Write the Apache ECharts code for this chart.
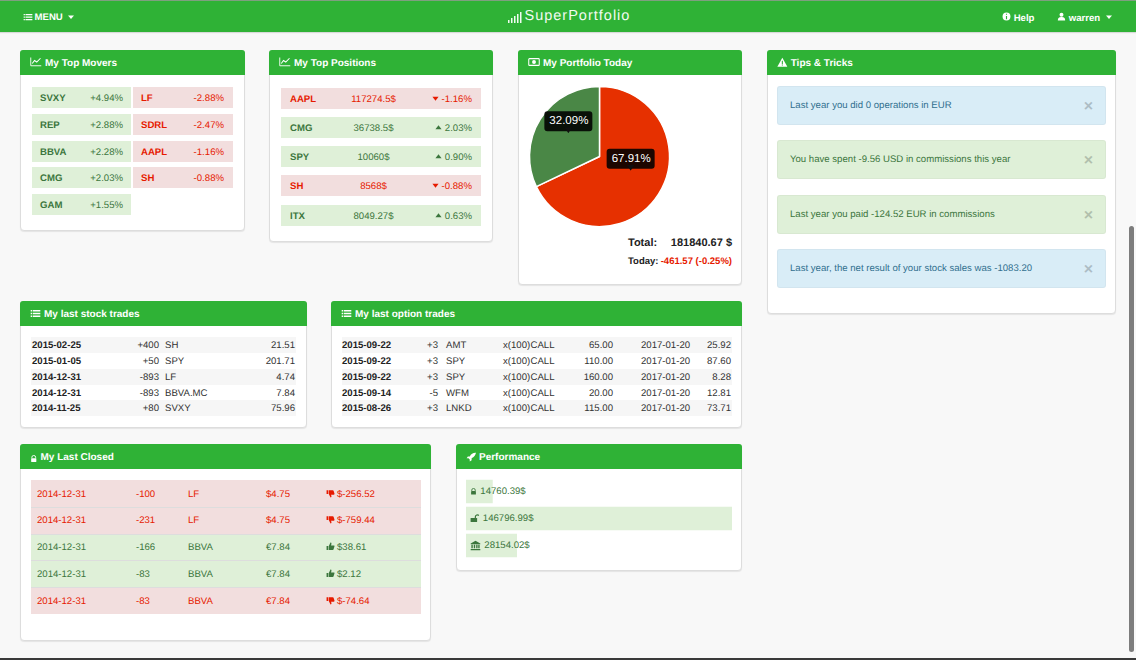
<!DOCTYPE html>
<html>
<head>
<meta charset="utf-8">
<title>SuperPortfolio</title>
<script src="https://cdn.jsdelivr.net/npm/echarts@6/dist/echarts.min.js"></script>
<style>
html,body{margin:0;padding:0;width:1136px;height:660px;overflow:hidden;background:#f8f8f8;font-family:"Liberation Sans",Arial,sans-serif;font-size:9.6px;color:#333;text-rendering:geometricPrecision}
#nav{position:absolute;left:0;top:0;width:1136px;height:32px;background:#2fb236;border-top:1px solid #7f9f80;box-sizing:border-box;box-shadow:0 1px 1px rgba(0,0,0,.12);color:#fff;font-weight:bold;font-size:9.6px}
#nav span{position:absolute;top:10.5px;white-space:nowrap}
#logo{left:524.5px;top:6.5px!important;font-weight:normal;font-size:14.5px;letter-spacing:1px;color:#f2fbf2}
.panel{position:absolute;background:#fff;border:1px solid #ddd;border-radius:4px;box-sizing:border-box;box-shadow:0 1px 1px rgba(0,0,0,.08)}
.head{position:absolute;left:-1px;right:-1px;top:-1px;height:25px;background:#2fb236;border-radius:3px 3px 0 0;color:#fff;font-weight:bold;font-size:10px;line-height:27px;white-space:nowrap}
.head svg{vertical-align:-2px;margin-right:3px}
.ok{background:#dff0d8;color:#3c763d}
.ko{background:#f2dede;color:#e61a00}
.info{background:#d9edf7;color:#31708f}
.b{font-weight:bold}
.alert{position:absolute;left:777px;width:329px;height:39px;border-radius:3px;border:1px solid rgba(0,0,0,.03);box-sizing:border-box;line-height:37px;padding-left:12px}
.alert i{position:absolute;right:12px;top:3px;font-style:normal;font-size:16px;line-height:34px;font-weight:bold;opacity:.2;color:#000}
#scroll{position:absolute;left:1129px;top:226px;width:5px;height:426px;background:#7d7d7d;border-radius:3px}
#bottom{position:absolute;left:0;top:658px;width:1136px;height:2px;background:#3a3a3a}
#pie{position:absolute;left:518px;top:75px;width:224px;height:165px}
#perf{position:absolute;left:456px;top:469px;width:286px;height:100px}
.abs{position:absolute;white-space:nowrap}
</style>
</head>
<body>
<div id="nav"></div>
<div id="app"></div>
<div id="scroll"></div>
<div id="bottom"></div>
<script>
var moverUp = [['SVXY', '+4.94%'], ['REP', '+2.88%'], ['BBVA', '+2.28%'], ['CMG', '+2.03%'], ['GAM', '+1.55%']];
var moverDown = [['LF', '-2.88%'], ['SDRL', '-2.47%'], ['AAPL', '-1.16%'], ['SH', '-0.88%']];
var topPositions = [
    ['AAPL', '117274.5$', '-1.16%', 0],
    ['CMG', '36738.5$', '2.03%', 1],
    ['SPY', '10060$', '0.90%', 1],
    ['SH', '8568$', '-0.88%', 0],
    ['ITX', '8049.27$', '0.63%', 1]
];
var pieValues = [67.91, 32.09];
var tips = [
    ['info', 'Last year you did 0 operations in EUR'],
    ['ok', 'You have spent -9.56 USD in commissions this year'],
    ['ok', 'Last year you paid -124.52 EUR in commissions'],
    ['info', 'Last year, the net result of your stock sales was -1083.20']
];
var stockTrades = [
    ['2015-02-25', '+400', 'SH', '21.51'],
    ['2015-01-05', '+50', 'SPY', '201.71'],
    ['2014-12-31', '-893', 'LF', '4.74'],
    ['2014-12-31', '-893', 'BBVA.MC', '7.84'],
    ['2014-11-25', '+80', 'SVXY', '75.96']
];
var optionTrades = [
    ['2015-09-22', '+3', 'AMT', '65.00', '25.92'],
    ['2015-09-22', '+3', 'SPY', '110.00', '87.60'],
    ['2015-09-22', '+3', 'SPY', '160.00', '8.28'],
    ['2015-09-14', '-5', 'WFM', '20.00', '12.81'],
    ['2015-08-26', '+3', 'LNKD', '115.00', '73.71']
];
var closedTrades = [
    ['2014-12-31', '-100', 'LF', '$4.75', '$-256.52', 0],
    ['2014-12-31', '-231', 'LF', '$4.75', '$-759.44', 0],
    ['2014-12-31', '-166', 'BBVA', '€7.84', '$38.61', 1],
    ['2014-12-31', '-83', 'BBVA', '€7.84', '$2.12', 1],
    ['2014-12-31', '-83', 'BBVA', '€7.84', '$-74.64', 0]
];
var perfValues = [14760.39, 146796.99, 28154.02];

function ic(name, w, c) {
    c = c || '#fff';
    var p = {
        line: '<path d="M1 2v11h14" fill="none" stroke="' + c + '" stroke-width="1.2"/><path d="M3 10l3-4 3 2 5-5" fill="none" stroke="' + c + '" stroke-width="1.4"/>',
        list: '<path d="M1 3h2v2H1zM1 7h2v2H1zM1 11h2v2H1z" fill="' + c + '"/><path d="M4 3h11v2H4zM4 7h11v2H4zM4 11h11v2H4z" fill="' + c + '"/>',
        money: '<rect x="1" y="3.5" width="14" height="9" rx="1" fill="none" stroke="' + c + '" stroke-width="1.4"/><circle cx="8" cy="8" r="2.6" fill="' + c + '"/>',
        warn: '<path d="M8 1l7.5 13.5H.5z" fill="' + c + '"/><path d="M7.2 5.5h1.6v5H7.2zM7.2 11.3h1.6v1.6H7.2z" fill="#2fb236"/>',
        lock: '<path d="M4 7V5a4 4 0 0 1 8 0v2" fill="none" stroke="' + c + '" stroke-width="2"/><rect x="2.5" y="7" width="11" height="8" rx="1" fill="' + c + '"/>',
        unlock: '<path d="M9 7V5a3.5 3.5 0 0 1 6 -2" fill="none" stroke="' + c + '" stroke-width="2"/><rect x="1" y="7" width="11" height="7" rx="1" fill="' + c + '"/>',
        bank: '<path d="M8 1l7 4v1H1V5zM2 7h2v5H2zM5.5 7h2v5h-2zM9 7h2v5H9zM12 7h2v5h-2zM1 13h14v2H1z" fill="' + c + '"/>',
        rocket: '<path d="M15 1c-4 0-7 2-9 6H3l-2 3h3l2 2v3l3-2v-3c4-2 6-5 7-9z" fill="' + c + '"/>',
        up: '<path d="M1 7h3v7H1zM5 7l3-6c1.500 0 2 1 1.600 2.500L9 6h5c1 0 1.300 1 1 2l-1.500 5c-.2.700-.700 1-1.500 1H5z" fill="' + c + '"/>',
        down: '<path d="M1 2h3v7H1zM5 9l3 6c1.500 0 2-1 1.600-2.500L9 10h5c1 0 1.300-1 1-2l-1.500-5c-.2-.700-.700-1-1.500-1H5z" fill="' + c + '"/>',
        info: '<circle cx="8" cy="8" r="7" fill="' + c + '"/><path d="M7 3h2v2H7zM7 7h2v6H7z" fill="#2fb236"/>',
        user: '<circle cx="8" cy="5" r="3.500" fill="' + c + '"/><path d="M1.500 15c0-5 3-6 6.500-6s6.500 1 6.500 6z" fill="' + c + '"/>',
        caret: '<path d="M2 5h12l-6 7z" fill="' + c + '"/>',
        tup: '<path d="M8 3l7 9H1z" fill="' + c + '"/>',
        tdown: '<path d="M1 4h14l-7 9z" fill="' + c + '"/>',
        tip: '<path d="M2 0h12l-6 16z" fill="' + c + '"/>'
    };
    return '<svg width="' + w + '" height="' + w + '" viewBox="0 0 16 16" preserveAspectRatio="none">' + p[name] + '</svg>';
}

function icUri(name, c) {
    return 'data:image/svg+xml;charset=utf-8,' + encodeURIComponent(ic(name, 32, c).replace('<svg ', '<svg xmlns="http://www.w3.org/2000/svg" '));
}

var app = document.getElementById('app');
var html = '';

function abs(x, y, txt, cls, style) {
    html += '<div class="abs ' + (cls || '') + '" style="left:' + x + 'px;top:' + y + 'px;' + (style || '') + '">' + txt + '</div>';
}
function absR(right, y, txt, cls, style) {
    html += '<div class="abs ' + (cls || '') + '" style="right:' + (1136 - right) + 'px;top:' + y + 'px;' + (style || '') + '">' + txt + '</div>';
}
function box(x, y, w, h, cls, style) {
    html += '<div class="abs ' + (cls || '') + '" style="left:' + x + 'px;top:' + y + 'px;width:' + w + 'px;height:' + h + 'px;' + (style || '') + '"></div>';
}
function panel(x, y, w, h, icon, iconW, title) {
    html += '<div class="panel" style="left:' + x + 'px;top:' + y + 'px;width:' + w + 'px;height:' + h + 'px">' +
        '<div class="head" style="padding-left:10px">' + ic(icon, iconW) + title + '</div></div>';
}

panel(20, 50, 225, 181, 'line', 12, 'My Top Movers');
panel(269, 50, 224, 192, 'line', 12, 'My Top Positions');
panel(518, 50, 224, 235, 'money', 12, 'My Portfolio Today');
panel(767, 50, 349, 264, 'warn', 10.7, 'Tips &amp; Tricks');
panel(20, 301, 287, 127, 'list', 11, 'My last stock trades');
panel(331, 301, 411, 127, 'list', 11, 'My last option trades');
panel(20, 444, 411, 197, 'lock', 7.5, 'My Last Closed');
panel(456, 444, 286, 127, 'rocket', 10, 'Performance');

// top movers
var moverY = [87, 114, 141, 167, 194];
moverUp.forEach(function (m, i) {
    box(32, moverY[i], 99, 21, 'ok');
    abs(40, moverY[i] + 6, m[0], 'b', 'color:#3c763d');
    absR(123, moverY[i] + 6, m[1], '', 'color:#3c763d');
});
moverDown.forEach(function (m, i) {
    box(133, moverY[i], 100, 21, 'ko');
    abs(141, moverY[i] + 6, m[0], 'b', 'color:#e61a00');
    absR(224, moverY[i] + 6, m[1], '', 'color:#e61a00');
});

// top positions
var posY = [88, 117, 146, 175, 205];
topPositions.forEach(function (p, i) {
    var col = p[3] ? '#3c763d' : '#e61a00';
    box(281, posY[i], 200, 21, p[3] ? 'ok' : 'ko');
    abs(290, posY[i] + 6, p[0], 'b', 'color:' + col);
    abs(323.5, posY[i] + 6, p[1], '', 'color:' + col + ';width:100px;text-align:center');
    absR(472, posY[i] + 6, ic(p[3] ? 'tup' : 'tdown', 7, col) + ' ' + p[2], '', 'color:' + col);
});

// portfolio totals
abs(628, 237, 'Total:', 'b', 'font-size:11px;color:#222');
absR(732, 237, '181840.67 $', 'b', 'font-size:11px;color:#222');
abs(628, 256, 'Today:', 'b', 'font-size:9.5px;color:#222');
absR(732, 256, '-461.57 (-0.25%)', 'b', 'font-size:9.5px;color:#e61a00');

// tips
var tipY = [86, 140, 195, 249];
tips.forEach(function (t, i) {
    html += '<div class="alert ' + t[0] + '" style="top:' + tipY[i] + 'px">' + t[1] + '<i>×</i></div>';
});

// stock trades
stockTrades.forEach(function (t, i) {
    var y = 337 + i * 15.85;
    if (i % 2 === 0) box(31, y, 265, 16, '', 'background:#f6f6f6');
    abs(32, y + 3, t[0], 'b', 'color:#222');
    absR(159, y + 3, t[1]);
    abs(165, y + 3, t[2]);
    absR(295, y + 3, t[3]);
});

// option trades
optionTrades.forEach(function (t, i) {
    var y = 337 + i * 15.85;
    if (i % 2 === 0) box(342, y, 390, 16, '', 'background:#f6f6f6');
    abs(342, y + 3, t[0], 'b', 'color:#222');
    absR(438, y + 3, t[1]);
    abs(446, y + 3, t[2]);
    abs(503, y + 3, 'x(100)');
    abs(530.5, y + 3, 'CALL');
    absR(613, y + 3, t[3]);
    abs(641, y + 3, '2017-01-20');
    absR(731, y + 3, t[4]);
});

// last closed
closedTrades.forEach(function (t, i) {
    var y = 480 + i * 26.8, col = t[5] ? '#3c763d' : '#e61a00';
    box(31, y, 390, 26.8, t[5] ? 'ok' : 'ko', i ? 'border-top:1px solid #ddd;box-sizing:border-box' : '');
    abs(37, y + 8.5, t[0], '', 'color:' + col);
    abs(136, y + 8.5, t[1], '', 'color:' + col);
    abs(188, y + 8.5, t[2], '', 'color:' + col);
    abs(266, y + 8.5, t[3], '', 'color:' + col);
    abs(326, y + 8.5, ic(t[5] ? 'up' : 'down', 9, col));
    abs(337, y + 8.5, t[4], '', 'color:' + col);
});

html += '<div id="pie"></div><div id="perf"></div>';
app.innerHTML = html;

document.getElementById('nav').innerHTML =
    '<span style="left:23px">' + ic('list', 10) + '<span style="left:11.500px;top:0"> MENU</span><span style="left:44px;top:1px">' + ic('caret', 8) + '</span></span>' +
    '<span id="logo">SuperPortfolio</span>' +
    '<span style="left:508px;top:11px"><svg width="14" height="12" viewBox="0 0 14 12"><path d="M0 8h1.500v3H0zM3 6h1.500v5H3zM6 4h1.500v7H6zM9 2h1.500v9H9zM12 0h1.500v11H12z" fill="#f2fbf2"/></svg></span>' +
    '<span style="left:1002px">' + ic('info', 9) + ' Help</span>' +
    '<span style="left:1057px">' + ic('user', 9) + ' warren &nbsp;' + ic('caret', 8) + '</span>';

// pie with the small callouts on each slice
var pieChart = echarts.init(document.getElementById('pie'), null, { renderer: 'svg' });
pieChart.setOption({
    animation: false,
    series: [{
        type: 'pie',
        center: [81.5, 81.5],
        radius: [0, 70],
        startAngle: 90,
        clockwise: true,
        silent: true,
        itemStyle: { borderColor: '#fff', borderWidth: 1.5 },
        label: {
            position: 'inside',
            formatter: function (p) {
                return '{box|' + p.value + '%}\n{tip|}';
            },
            rich: {
                box: {
                    color: '#fff',
                    fontFamily: 'Liberation Sans',
                    fontSize: 11.5,
                    backgroundColor: 'rgba(0,0,0,0.88)',
                    borderRadius: 3,
                    padding: [4, 4, 4, 5],
                    lineHeight: 12
                },
                tip: {
                    width: 10,
                    height: 6,
                    lineHeight: 6,
                    align: 'center',
                    backgroundColor: { image: icUri('tip', '#0f0f0f') }
                }
            }
        },
        labelLine: { show: false },
        data: [
            { value: pieValues[0], itemStyle: { color: '#e63000' }, label: { offset: [-1, -15] } },
            { value: pieValues[1], itemStyle: { color: '#4a8746' }, label: { offset: [1, -12] } }
        ]
    }]
});

// performance bars share one scale, the biggest fills the row
var perfIcons = ['lock', 'unlock', 'bank'];
var perfIconSize = [7, 9.5, 11];
var perfRich = {
    val: { color: '#3c763d', fontFamily: 'Liberation Sans', fontSize: 9.6 }
};
perfIcons.forEach(function (n, i) {
    perfRich[n] = {
        width: perfIconSize[i], height: perfIconSize[i],
        backgroundColor: { image: icUri(n, '#3c763d') }
    };
});
var perfChart = echarts.init(document.getElementById('perf'), null, { renderer: 'svg' });
perfChart.setOption({
    animation: false,
    grid: { left: 10, right: 10, top: 9, height: 81 },
    xAxis: { type: 'value', min: 0, max: perfValues[1], show: false },
    yAxis: { type: 'category', inverse: true, show: false, data: perfIcons },
    series: [{
        type: 'bar',
        silent: true,
        barWidth: 23.5,
        itemStyle: { color: '#dff0d8' },
        label: {
            show: true,
            position: ['0%', '50%'],
            align: 'left',
            verticalAlign: 'middle',
            distance: 0,
            offset: [4, 0],
            formatter: function (p) {
                return '{' + perfIcons[p.dataIndex] + '|} {val|' + p.value + '$}';
            },
            rich: perfRich
        },
        data: perfValues
    }]
});
</script>
</body>
</html>
